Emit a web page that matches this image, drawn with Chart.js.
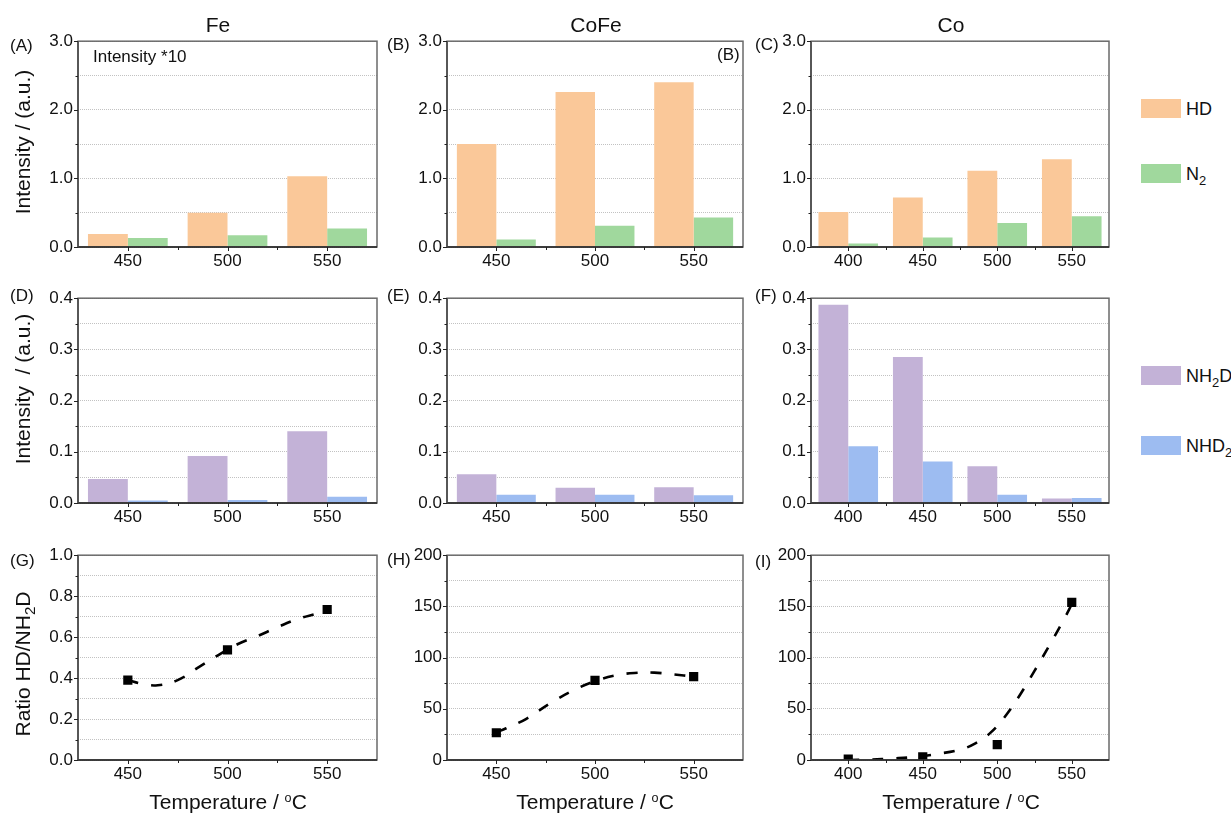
<!DOCTYPE html>
<html>
<head>
<meta charset="utf-8">
<script src="https://cdn.jsdelivr.net/npm/chart.js@4.4.0/dist/chart.umd.min.js"></script>
<style>
  body { margin: 0; background: #fff; font-family: 'Liberation Sans', Arial, sans-serif; color: #111; }
  #wrap { position: relative; width: 1231px; height: 813px; overflow: hidden; }
  canvas { position: absolute; }
  .t { position: absolute; white-space: nowrap; line-height: 1; z-index: 2; }
  .title { font-size: 21px; transform: translate(-50%, -50%); }
  .plab { font-size: 17px; transform: translateY(-50%); }
  .ytitle { font-size: 21px; transform: translate(-50%, -50%) rotate(-90deg); }
  .xtitle { font-size: 21px; transform: translate(-50%, -50%); }
  .lbox { position: absolute; width: 40px; height: 19px; }
  .ltxt { position: absolute; font-size: 18px; line-height: 1; transform: translateY(-50%); white-space: nowrap; }
  sub { font-size: 0.72em; vertical-align: -0.35em; line-height: 0; }
  sup { font-size: 0.6em; vertical-align: 0.55em; line-height: 0; }
</style>
</head>
<body>
<div id="wrap">
  <div class="t title" style="left:218px; top:24px;">Fe</div>
  <div class="t title" style="left:596px; top:24px;">CoFe</div>
  <div class="t title" style="left:951px; top:24px;">Co</div>

  <div class="t plab" style="left:10px; top:45px;">(A)</div>
  <div class="t plab" style="left:387px; top:44px;">(B)</div>
  <div class="t plab" style="left:755px; top:44px;">(C)</div>
  <div class="t plab" style="left:10px; top:295px;">(D)</div>
  <div class="t plab" style="left:387px; top:295px;">(E)</div>
  <div class="t plab" style="left:755px; top:295px;">(F)</div>
  <div class="t plab" style="left:10px; top:560px;">(G)</div>
  <div class="t plab" style="left:387px; top:559px;">(H)</div>
  <div class="t plab" style="left:755px; top:561px;">(I)</div>

  <div class="t plab" style="left:93px; top:56px;">Intensity *10</div>
  <div class="t plab" style="left:717px; top:54px;">(B)</div>

  <div class="t ytitle" style="left:22px; top:142px;">Intensity / (a.u.)</div>
  <div class="t ytitle" style="left:22px; top:389px;">Intensity&nbsp; / (a.u.)</div>
  <div class="t ytitle" style="left:22px; top:664px;">Ratio HD/NH<sub>2</sub>D</div>

  <div class="t xtitle" style="left:228px; top:801px;">Temperature / <sup>o</sup>C</div>
  <div class="t xtitle" style="left:595px; top:801px;">Temperature / <sup>o</sup>C</div>
  <div class="t xtitle" style="left:961px; top:801px;">Temperature / <sup>o</sup>C</div>

  <div class="lbox" style="left:1141px; top:99px; background:#FAC899;"></div>
  <div class="ltxt" style="left:1186px; top:109px;">HD</div>
  <div class="lbox" style="left:1141px; top:164px; background:#A0D89D;"></div>
  <div class="ltxt" style="left:1186px; top:174px;">N<sub>2</sub></div>
  <div class="lbox" style="left:1141px; top:366px; background:#C3B2D7;"></div>
  <div class="ltxt" style="left:1186px; top:376px;">NH<sub>2</sub>D</div>
  <div class="lbox" style="left:1141px; top:436px; background:#9DBCF1;"></div>
  <div class="ltxt" style="left:1186px; top:446px;">NHD<sub>2</sub></div>
</div>

<script>
// --- DATA ---
const tempsFe = ['450', '500', '550'];
const tempsCoFe = ['450', '500', '550'];
const tempsCo = ['400', '450', '500', '550'];

// intensity *10 (row 1)
const feHD = [0.19, 0.50, 1.03];
const feN2 = [0.13, 0.17, 0.27];
const cofeHD = [1.50, 2.26, 2.40];
const cofeN2 = [0.11, 0.31, 0.43];
const coHD = [0.51, 0.72, 1.11, 1.28];
const coN2 = [0.05, 0.14, 0.35, 0.45];

// row 2
const feNH2D = [0.047, 0.092, 0.140];
const feNHD2 = [0.005, 0.006, 0.012];
const cofeNH2D = [0.056, 0.030, 0.031];
const cofeNHD2 = [0.016, 0.016, 0.015];
const coNH2D = [0.387, 0.285, 0.072, 0.009];
const coNHD2 = [0.111, 0.081, 0.016, 0.010];

// row 3: ratio HD/NH2D
const ratioTFe = [450, 500, 550];
const ratioFe = [0.39, 0.538, 0.735];
const ratioTCoFe = [450, 500, 550];
const ratioCoFe = [26.6, 77.7, 81.5];
const ratioTCo = [400, 450, 500, 550];
const ratioCo = [1, 3, 15, 154];

// dashed fit curves
const fitTFe = [450, 457, 465, 475, 485, 495, 505, 515, 525, 535, 545, 550];
const fitFe = [0.39, 0.372, 0.365, 0.39, 0.45, 0.51, 0.565, 0.605, 0.648, 0.688, 0.715, 0.73];
const fitTCoFe = [450, 455, 465, 477, 489, 500, 510, 520, 530, 540, 550];
const fitCoFe = [27, 31, 40, 55, 68, 77, 82.5, 85, 85.3, 83.5, 81.5];
const fitTCo = [400, 415, 430, 445, 460, 475, 485, 495, 505, 515, 525, 535, 545, 550];
const fitCo = [0, 0.5, 1.5, 3, 6, 10, 16, 26, 42, 63, 87, 112, 138, 152];

// tick labels
const xTicksFe = [450, 500, 550];
const xMinorFe = [475, 525];
const xTicksCo = [400, 450, 500, 550];
const xMinorCo = [425, 475, 525];

const colHD = '#FAC899', colN2 = '#A0D89D', colNH2D = '#C3B2D7', colNHD2 = '#9DBCF1';
const FONT = "'Liberation Sans', Arial, sans-serif";

// --- frame + ticks plugin ---
const frameTicks = {
  id: 'frameTicks',
  afterDraw(chart, args, opts) {
    const { ctx, chartArea: a, scales: { x, y } } = chart;
    ctx.save();
    const seg = (x1, y1, x2, y2) => { ctx.beginPath(); ctx.moveTo(x1, y1); ctx.lineTo(x2, y2); ctx.stroke(); };
    ctx.lineWidth = 1.5;
    ctx.strokeStyle = '#6a6a6a';
    ctx.strokeRect(a.left, a.top, a.right - a.left, a.bottom - a.top);
    ctx.strokeStyle = '#222';
    seg(a.left, a.bottom, a.right, a.bottom);
    ctx.strokeStyle = '#444';
    seg(a.left, a.top, a.left, a.bottom);
    ctx.strokeStyle = '#222';
    ctx.lineWidth = 1;
    y.ticks.forEach(t => {
      const py = Math.round(y.getPixelForValue(t.value)) + 0.5;
      const len = t.label !== '' ? 4 : 2.5;
      seg(a.left - len, py, a.left, py);
    });
    if (x.type === 'category') {
      const n = x.ticks.length;
      for (let i = 0; i < n; i++) {
        const px = Math.round(x.getPixelForTick(i)) + 0.5;
        seg(px, a.bottom, px, a.bottom + 4);
        if (i < n - 1) {
          const pm = Math.round((x.getPixelForTick(i) + x.getPixelForTick(i + 1)) / 2) + 0.5;
          seg(pm, a.bottom, pm, a.bottom + 3);
        }
      }
    } else {
      x.ticks.forEach(t => {
        const px = Math.round(x.getPixelForValue(t.value)) + 0.5;
        seg(px, a.bottom, px, a.bottom + 4);
      });
      (opts.minor || []).forEach(v => {
        const px = Math.round(x.getPixelForValue(v)) + 0.5;
        seg(px, a.bottom, px, a.bottom + 3);
      });
    }
    ctx.restore();
  }
};

const cols = [[78, 377], [447, 743], [811, 1109]];
const rows = [[38, 247], [295, 503], [552, 760]];

function makeCanvas(c, r) {
  const [L, R] = cols[c], [T, B] = rows[r];
  const cv = document.createElement('canvas');
  cv.width = R - L + 72;
  cv.height = B - T + 42;
  cv.style.left = (L - 60) + 'px';
  cv.style.top = (T - 12) + 'px';
  document.getElementById('wrap').appendChild(cv);
  return cv;
}

function yAxis(max, step, isMajor, fmt) {
  return {
    min: 0, max: max,
    afterFit: s => { s.width = 60; },
    ticks: {
      stepSize: step, autoSkip: false, padding: 5, color: '#111',
      font: { family: FONT, size: 17 },
      callback: v => isMajor(v) ? fmt(v) : ''
    },
    grid: { color: '#c2c2c2', lineWidth: 1, drawTicks: false },
    border: { display: false, dash: [1, 1] }
  };
}

function baseOptions(scales, minor) {
  return {
    responsive: false,
    animation: false,
    layout: { padding: { left: 0, top: 12, right: 12, bottom: 0 } },
    plugins: { legend: { display: false }, tooltip: { enabled: false }, frameTicks: { minor: minor } },
    scales: scales
  };
}

function catX() {
  return {
    type: 'category', offset: true,
    afterFit: s => { s.height = 30; },
    ticks: { maxRotation: 0, autoSkip: false, padding: 4, color: '#111', font: { family: FONT, size: 17 } },
    grid: { display: false, drawTicks: false },
    border: { display: false }
  };
}

const near = (v, m) => Math.abs(v / m - Math.round(v / m)) < 1e-6;

function barChart(c, r, labels, a, b, ca, cb, ymax, step, major, fmt) {
  new Chart(makeCanvas(c, r), {
    type: 'bar',
    data: {
      labels: labels,
      datasets: [
        { data: a, backgroundColor: ca, categoryPercentage: 0.8, barPercentage: 1.0, borderWidth: 0 },
        { data: b, backgroundColor: cb, categoryPercentage: 0.8, barPercentage: 1.0, borderWidth: 0 }
      ]
    },
    options: baseOptions({ x: catX(), y: yAxis(ymax, step, v => near(v, major), fmt) }),
    plugins: [frameTicks]
  });
}

const f1 = v => v.toFixed(1);
barChart(0, 0, tempsFe, feHD, feN2, colHD, colN2, 3, 0.5, 1, f1);
barChart(1, 0, tempsCoFe, cofeHD, cofeN2, colHD, colN2, 3, 0.5, 1, f1);
barChart(2, 0, tempsCo, coHD, coN2, colHD, colN2, 3, 0.5, 1, f1);
barChart(0, 1, tempsFe, feNH2D, feNHD2, colNH2D, colNHD2, 0.4, 0.05, 0.1, f1);
barChart(1, 1, tempsCoFe, cofeNH2D, cofeNHD2, colNH2D, colNHD2, 0.4, 0.05, 0.1, f1);
barChart(2, 1, tempsCo, coNH2D, coNHD2, colNH2D, colNHD2, 0.4, 0.05, 0.1, f1);

function ratioChart(c, xmin, xticks, xminor, tx, ty, fx, fy, ymax, step, major, fmt) {
  new Chart(makeCanvas(c, 2), {
    type: 'line',
    data: {
      datasets: [
        {
          data: tx.map((t, i) => ({ x: t, y: ty[i] })),
          showLine: false, pointStyle: 'rect', pointRadius: 6.5,
          pointBackgroundColor: '#000', pointBorderWidth: 0
        },
        {
          data: fx.map((t, i) => ({ x: t, y: fy[i] })),
          borderColor: '#000', borderWidth: 2.6, borderDash: [11, 13],
          tension: 0.4, pointRadius: 0, fill: false
        }
      ]
    },
    options: baseOptions({
      x: {
        type: 'linear', min: xmin, max: 575,
        afterFit: s => { s.height = 30; },
        afterBuildTicks: s => { s.ticks = xticks.map(v => ({ value: v })); },
        ticks: { maxRotation: 0, autoSkip: false, padding: 4, color: '#111', font: { family: FONT, size: 17 }, callback: v => String(v) },
        grid: { display: false, drawTicks: false },
        border: { display: false }
      },
      y: yAxis(ymax, step, v => near(v, major), fmt)
    }, xminor),
    plugins: [frameTicks]
  });
}

ratioChart(0, 425, xTicksFe, xMinorFe, ratioTFe, ratioFe, fitTFe, fitFe, 1, 0.1, 0.2, f1);
ratioChart(1, 425, xTicksFe, xMinorFe, ratioTCoFe, ratioCoFe, fitTCoFe, fitCoFe, 200, 25, 50, v => String(v));
ratioChart(2, 375, xTicksCo, xMinorCo, ratioTCo, ratioCo, fitTCo, fitCo, 200, 25, 50, v => String(v));
</script>
</body>
</html>
